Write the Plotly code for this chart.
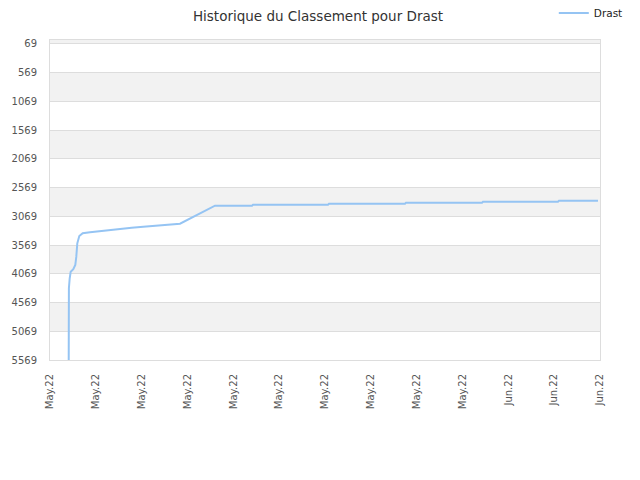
import plotly.graph_objects as go

dates = [
    "2022-05-03 05:24", "2022-05-03 05:41", "2022-05-03 06:57", "2022-05-03 08:31",
    "2022-05-03 12:36", "2022-05-03 15:44", "2022-05-03 17:19", "2022-05-03 18:53",
    "2022-05-03 22:02", "2022-05-04 03:22", "2022-05-04 14:50", "2022-05-05 06:33",
    "2022-05-06 00:56", "2022-05-06 16:38", "2022-05-07 08:21", "2022-05-08 02:34",
    "2022-05-08 20:57", "2022-05-09 15:19", "2022-05-10 12:13", "2022-05-12 19:12",
    "2022-05-15 05:20", "2022-05-15 06:50", "2022-05-20 04:45", "2022-05-20 06:15",
    "2022-05-25 05:40", "2022-05-25 07:15", "2022-05-30 06:40", "2022-05-30 08:10",
    "2022-06-04 06:00", "2022-06-04 07:35", "2022-06-06 20:50",
]
ranks = [
    5569, 4321, 4147, 4032,
    3990, 3916, 3771, 3538,
    3411, 3364, 3346, 3324,
    3301, 3289, 3266, 3249,
    3231, 3214, 3197, 2883,
    2883, 2866, 2866, 2849,
    2849, 2831, 2831, 2814,
    2814, 2796, 2796,
]
series_name = "Drast"
title_text = "Historique du Classement pour Drast"

y_ticks = [69, 569, 1069, 1569, 2069, 2569, 3069, 3569, 4069, 4569, 5069, 5569]
y_top = 0
x_start = "2022-05-02"
x_end = "2022-06-07"
day_ms = 86400000

# the page body adds an 8px offset, so the figure is sized to fit the window
W, H = 632, 472

fig = go.Figure()
fig.add_trace(go.Scatter(
    x=dates, y=ranks, mode="lines", name=series_name,
    line=dict(color="rgb(149,196,243)", width=2),
    showlegend=True,
))

# alternating bands
shapes = [dict(type="rect", xref="paper", yref="y", x0=0, x1=1, y0=y_top, y1=y_ticks[0],
               fillcolor="#f2f2f2", line_width=0, layer="below")]
for i in range(1, len(y_ticks) - 1, 2):
    shapes.append(dict(type="rect", xref="paper", yref="y", x0=0, x1=1,
                       y0=y_ticks[i], y1=y_ticks[i + 1],
                       fillcolor="#f2f2f2", line_width=0, layer="below"))

fig.update_layout(
    width=W, height=H,
    margin=dict(l=42, r=40, t=32, b=120, autoexpand=False),
    paper_bgcolor="white", plot_bgcolor="white",
    font=dict(family="DejaVu Sans", size=10, color="#555"),
    title=dict(text=title_text, x=310 / W, xanchor="center", xref="container",
               y=1 - 8.5 / H, yref="container", yanchor="middle",
               font=dict(family="DejaVu Sans", size=13.5, color="#333")),
    shapes=shapes,
    legend=dict(x=0.916, y=1.084, xanchor="left", yanchor="middle", orientation="h",
                font=dict(family="DejaVu Sans", size=10.5, color="#222"),
                itemwidth=30, bgcolor="rgba(0,0,0,0)"),
    xaxis=dict(
        type="date", range=[x_start, x_end], tick0=x_start, dtick=3 * day_ms,
        tickformat="%b.%y", tickangle=-90, showgrid=False, zeroline=False,
        showline=True, linecolor="#dddddd", mirror=True, ticks="",
        ticklabelstandoff=9, automargin=False,
        tickfont=dict(family="DejaVu Sans", size=10, color="#555"),
    ),
    yaxis=dict(
        range=[y_ticks[-1], y_top], tickvals=y_ticks, showgrid=True,
        gridcolor="#dddddd", zeroline=False, showline=True, linecolor="#dddddd",
        mirror=True, ticks="", ticklabelstandoff=10, automargin=False,
        tickfont=dict(family="DejaVu Sans", size=10, color="#555"),
    ),
)

fig.write_html("out.html")
